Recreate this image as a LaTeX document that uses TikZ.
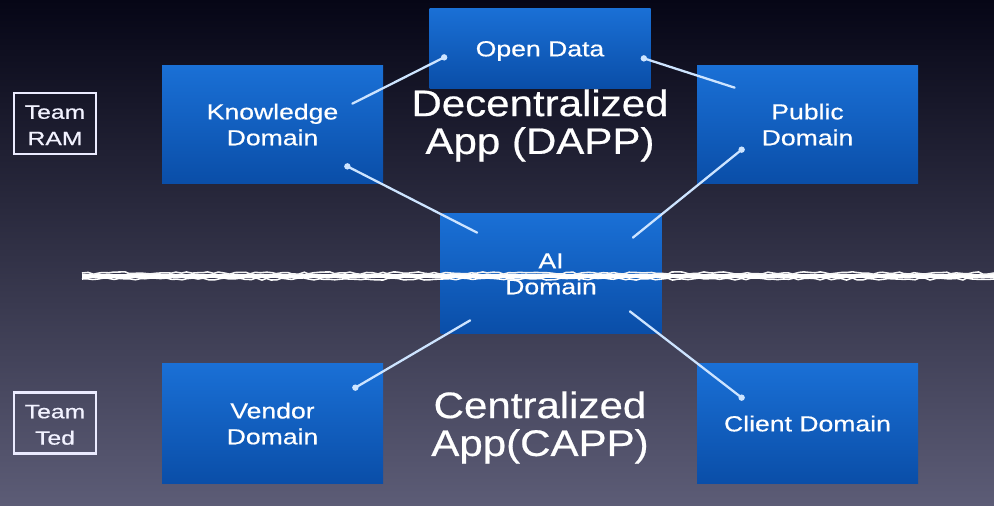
\documentclass[tikz,border=0pt]{standalone}
\usepackage{fontspec}
\setmainfont{Liberation Sans}
\newfontfamily\heavyfont{Liberation Sans}[FakeBold=0.5]
\usetikzlibrary{decorations.pathmorphing}
\definecolor{bgtop}{RGB}{6,6,22}
\definecolor{bgbot}{RGB}{92,92,118}
\definecolor{boxtop}{RGB}{26,112,214}
\definecolor{boxbot}{RGB}{10,78,168}
\definecolor{linkc}{RGB}{205,228,255}
\newcommand\setfs[2]{\heavyfont\fontsize{#1}{#2}\selectfont\setbox\strutbox\hbox{\vrule height.7\baselineskip depth.3\baselineskip width0pt}}
\newcommand\widetext[2]{\raisebox{-1.8pt}[\height][\depth]{\scalebox{#1}[1]{\begin{tabular}{@{}c@{}}#2\end{tabular}}}}
\tikzset{
  dombox/.style={rectangle, top color=boxtop, bottom color=boxbot, minimum width=221*0.02cm, align=center, text=white, font=\setfs{12.4}{14.7}, inner sep=0pt},
  teambox/.style={rectangle, draw=white!92!blue, line width=1.5pt, minimum width=82*0.02cm, minimum height=61*0.02cm, align=center, text=white!95!blue, font=\setfs{11}{15}, inner sep=0pt},
  bigtext/.style={text=white, align=center, font=\setfs{21}{21}, inner sep=0pt},
  linkline/.style={draw=linkc, line width=1.3pt, line cap=round},
  dotmark/.style={fill=linkc, draw=none},
}
\begin{document}
\begin{tikzpicture}[x=0.02cm, y=-0.02cm]
\useasboundingbox (0,0) rectangle (994,505);
\shade[top color=bgtop, bottom color=bgbot] (0,0) rectangle (994,505);
% boxes
\node[dombox, minimum height=80*0.02cm] (od) at (540,48) {\widetext{1.22}{Open Data}};
\node[dombox, minimum height=118*0.02cm] (kd) at (272.5,124) {\widetext{1.22}{Knowledge\\Domain}};
\node[dombox, minimum height=118*0.02cm] (pd) at (807.5,124) {\widetext{1.22}{Public\\Domain}};
\node[dombox, minimum height=120*0.02cm] (ai) at (551,273) {\widetext{1.22}{AI\\Domain}};
\node[dombox, minimum height=120*0.02cm] (vd) at (272.5,423) {\widetext{1.22}{Vendor\\Domain}};
\node[dombox, minimum height=120*0.02cm] (cd) at (807.5,423) {\widetext{1.22}{Client Domain}};
% team labels
\node[teambox] (ram) at (55,123.5) {\widetext{1.28}{Team\\RAM}};
\node[teambox] (ted) at (55,423) {\widetext{1.28}{Team\\Ted}};
% connectors
\coordinate (k1) at ([shift={(-31,39)}]kd.north east);
\coordinate (o1) at ([shift={(15,-31)}]od.south west);
\coordinate (o2) at ([shift={(-7,-30)}]od.south east);
\coordinate (p1) at ([shift={(38,23)}]pd.north west);
\coordinate (p2) at ([shift={(45,85)}]pd.north west);
\coordinate (a1) at ([shift={(-29,25)}]ai.north east);
\coordinate (k2) at ([shift={(-36,-17)}]kd.south east);
\coordinate (a2) at ([shift={(37,20)}]ai.north west);
\coordinate (a3) at ([shift={(30,-13)}]ai.south west);
\coordinate (v1) at ([shift={(-28,25)}]vd.north east);
\coordinate (a4) at ([shift={(-32,-22)}]ai.south east);
\coordinate (c1) at ([shift={(45,35)}]cd.north west);
\draw[linkline] (k1) -- (o1);
\draw[linkline] (o2) -- (p1);
\draw[linkline] (p2) -- (a1);
\draw[linkline] (k2) -- (a2);
\draw[linkline] (a3) -- (v1);
\draw[linkline] (a4) -- (c1);
\foreach \p in {o1,o2,p2,k2,v1,c1} \fill[dotmark] (\p) circle (3.2);
% big texts
\node[bigtext] (dapp) at (540,124) {\widetext{1.14}{Decentralized\\App (DAPP)}};
\node[bigtext] (capp) at (540,426) {\widetext{1.14}{Centralized\\App(CAPP)}};
% rough divider line
\coordinate (dl) at (82,276);
\coordinate (dr) at (994,276);
\draw[white, line width=2.8pt] (dl) -- (dr);
\pgfmathsetseed{7}
\draw[white, line width=0.9pt, decorate, decoration={random steps, segment length=3, amplitude=0.6}] ([yshift=-1.7]dl) -- ([yshift=-1.7]dr);
\draw[white!92!gray, line width=0.9pt, decorate, decoration={random steps, segment length=3, amplitude=0.7}] ([yshift=1.7]dl) -- ([yshift=1.7]dr);
\end{tikzpicture}
\end{document}
